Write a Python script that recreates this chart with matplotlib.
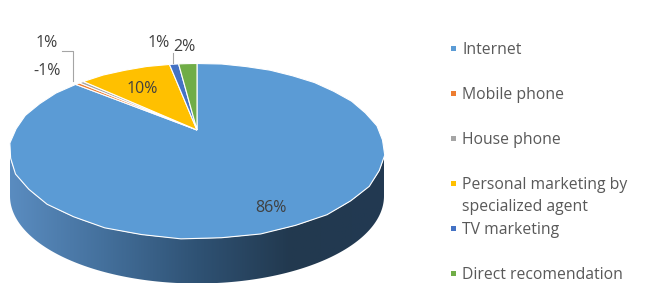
import numpy as np
import matplotlib.pyplot as plt
import matplotlib.transforms as mtransforms
from matplotlib.path import Path
from matplotlib.patches import PathPatch
from matplotlib.colors import LinearSegmentedColormap

# share of each channel (top face of the pie)
channels = ['Internet', 'Mobile phone', 'House phone',
            'Personal marketing by\nspecialized agent', 'TV marketing',
            'Direct recomendation']
shares = [86, 0.5, 0.5, 10, 1, 2]
pct_labels = ['86%', '-1%', '1%', '10%', '1%', '2%']
colors = ['#5B9BD5', '#ED7D31', '#A5A5A5', '#FFC000', '#4472C4', '#70AD47']

plt.rcParams['font.family'] = ['Open Sans', 'DejaVu Sans']


class Tilt(mtransforms.Transform):
    """perspective of a tilted disc, rescaled so the unit circle fills [-1,1]^2"""
    input_dims = output_dims = 2

    def __init__(self, k):
        super().__init__()
        self.k = k
        t = np.linspace(0, 2 * np.pi, 2000)
        p = self._raw(np.column_stack([np.cos(t), np.sin(t)]))
        self.x0 = (p[:, 0].max() + p[:, 0].min()) / 2
        self.y0 = (p[:, 1].max() + p[:, 1].min()) / 2
        self.sx = (p[:, 0].max() - p[:, 0].min()) / 2
        self.sy = (p[:, 1].max() - p[:, 1].min()) / 2

    def _raw(self, xy):
        w = 1 + self.k * xy[:, 1]
        return np.column_stack([xy[:, 0] / w, xy[:, 1] / w])

    def transform_non_affine(self, values):
        p = self._raw(np.asarray(values, dtype=float))
        return np.column_stack([(p[:, 0] - self.x0) / self.sx,
                                (p[:, 1] - self.y0) / self.sy])

    def transform_path_non_affine(self, path):
        polys = path.to_polygons(closed_only=True)
        verts = np.concatenate(polys)
        return Path(self.transform_non_affine(verts), closed=True)


W, H = 650, 294
fig = plt.figure(figsize=(W / 100, H / 100), dpi=100)

# pie axes: ellipse x 10..384, top at y=63, side bottom at y=283 (pixels)
rx_px, ry_px = 187, 87.5
cx_px, cy_px = 197, 151
depth = 45 / ry_px
bottom_px = cy_px + ry_px + 45
ax = fig.add_axes([(cx_px - rx_px) / W, (H - bottom_px) / H,
                   2 * rx_px / W, (bottom_px - (cy_px - ry_px)) / H])

# side of the cylinder (front half only, all Internet)
th = np.linspace(np.pi, 2 * np.pi, 200)
top = np.column_stack([np.cos(th), np.sin(th)])
bot = np.column_stack([np.cos(th[::-1]), np.sin(th[::-1]) - depth])
side = Path(np.vstack([top, bot, top[:1]]), closed=True)
patch = PathPatch(side, facecolor='none', edgecolor='none')
ax.add_patch(patch)
grad = np.linspace(0, 1, 256)[None, :]
cmap = LinearSegmentedColormap.from_list(
    'side', ['#5A8CC0', '#44709C', '#2F5274', '#22394F', '#223A52'])
img = ax.imshow(grad, cmap=cmap, extent=[-1, 1, -1 - depth, 0.2],
                aspect='auto', zorder=1)
img.set_clip_path(patch)

wedges, _ = ax.pie(shares, colors=colors, startangle=90, counterclock=False,
                   wedgeprops=dict(edgecolor='white', linewidth=0.8),
                   radius=1)
tilt = Tilt(0.24)
for w in wedges:
    w.set_transform(tilt + ax.transData)
    w.set_zorder(2)
ax.set_aspect('auto')
ax.set_xlim(-1, 1)
ax.set_ylim(-1 - depth, 1)
ax.axis('off')


# percentage labels (pixel positions converted to data units)
def to_data(px, py):
    return (px - cx_px) / rx_px, (cy_px - py) / ry_px


label_pos = [(271, 208), (47, 71), (47, 43), (142, 89), (159, 43), (184, 47)]
for txt, (px, py) in zip(pct_labels, label_pos):
    x, y = to_data(px, py)
    ax.text(x, y, txt, ha='center', va='center', fontsize=11.5,
            color='#404040', zorder=5, clip_on=False)

# leader lines
lx, ly = zip(*[to_data(62, 51), to_data(73, 51), to_data(73, 81)])
ax.plot(lx, ly, color='#A5A5A5', lw=0.8, zorder=5, clip_on=False)
lx, ly = zip(*[to_data(173, 53), to_data(173, 63)])
ax.plot(lx, ly, color='#A5A5A5', lw=0.8, zorder=5, clip_on=False)

# legend
for i, (name, c) in enumerate(zip(channels, colors)):
    y = 48 + 45 * i
    fig.patches.append(plt.Rectangle((451 / W, 1 - (y + 3) / H), 5 / W, 5 / H,
                                     transform=fig.transFigure,
                                     facecolor=c, edgecolor='none'))
    fig.text(462 / W, 1 - (y - 6) / H, name, ha='left', va='top',
             fontsize=11.3, color='#595959', linespacing=1.5)

fig.savefig('out.png', dpi=100)
